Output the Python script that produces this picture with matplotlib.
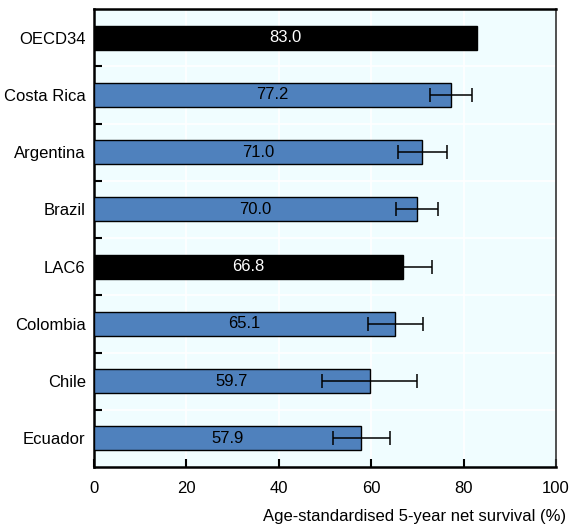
import numpy as np
import matplotlib
matplotlib.use("Agg")
import matplotlib.pyplot as plt

plt.rcParams['font.family'] = ['Liberation Sans Narrow', 'Liberation Sans', 'DejaVu Sans']

countries = ["OECD34", "Costa Rica", "Argentina", "Brazil", "LAC6", "Colombia", "Chile", "Ecuador"]
survival = [83.0, 77.2, 71.0, 70.0, 66.8, 65.1, 59.7, 57.9]
ci_low = [np.nan, 72.7, 65.7, 65.4, 60.5, 59.2, 49.4, 51.7]
ci_high = [np.nan, 81.8, 76.5, 74.5, 73.1, 71.2, 69.9, 64.1]
aggregates = ["OECD34", "LAC6"]
x_ticks = [0, 20, 40, 60, 80, 100]
x_label = "Age-standardised 5-year net survival (%)"

blue = "#4F81BD"
bg = "#F0FDFF"

fig = plt.figure(figsize=(5.72, 5.25), dpi=100)
ax = fig.add_axes([94 / 572, 58 / 525, 462 / 572, 458 / 525])
ax.set_facecolor(bg)

y = np.arange(len(countries))
colors = ["black" if c in aggregates else blue for c in countries]
ax.barh(y, survival, height=0.42, color=colors, edgecolor="black", linewidth=1.0, zorder=3)

vals = np.array(survival)
lo = np.array(ci_low)
hi = np.array(ci_high)
mask = ~np.isnan(lo)
ax.errorbar(vals[mask], y[mask], xerr=[vals[mask] - lo[mask], hi[mask] - vals[mask]],
            fmt="none", ecolor="black", elinewidth=1.1, capsize=5, capthick=1.1, zorder=4)

for yi, v, c in zip(y, survival, countries):
    ax.text(v / 2, yi, f"{v:.1f}", ha="center", va="center", fontsize=12,
            color="white" if c in aggregates else "black", zorder=5)

ax.set_xlim(0, 100)
ax.set_ylim(len(countries) - 0.5, -0.5)
ax.set_xticks(x_ticks)
ax.set_xticklabels([str(t) for t in x_ticks], fontsize=12)
ax.set_yticks(y)
ax.set_yticklabels(countries, fontsize=12)
ax.tick_params(axis="y", length=0, pad=6)
ax.tick_params(axis="x", direction="in", length=6, width=1.5, pad=10, top=False)

# boundaries between categories: inner ticks and white grid lines
bounds = np.arange(0.5, len(countries) - 0.5, 1.0)
ax.set_yticks(bounds, minor=True)
ax.tick_params(axis="y", which="minor", direction="in", length=6, width=1.5)
for b in bounds:
    ax.axhline(b, color="white", linewidth=1.2, zorder=1)
for t in x_ticks[1:-1]:
    ax.axvline(t, color="white", linewidth=1.2, zorder=1)

for side in ["left", "bottom", "top"]:
    ax.spines[side].set_linewidth(1.8)
ax.spines["right"].set_linewidth(1.2)
ax.spines["right"].set_color("#333333")

fig.text(566 / 572, 1 - 516 / 525, x_label, ha="right", va="center", fontsize=12)

fig.savefig("out.png", dpi=100)
